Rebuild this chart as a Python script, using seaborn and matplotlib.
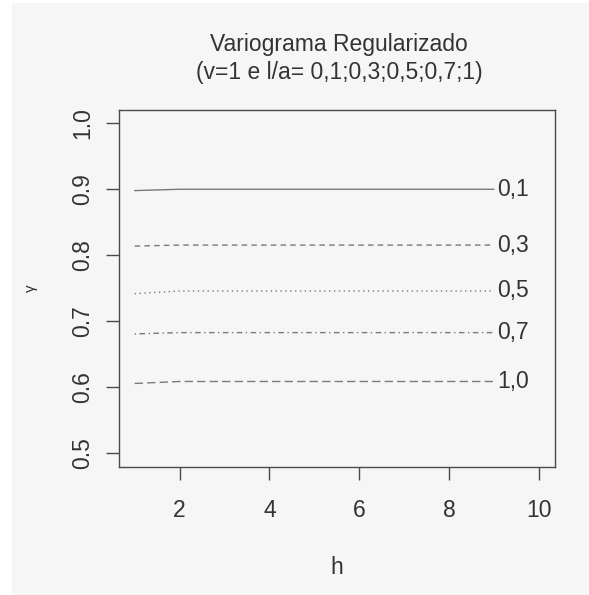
import matplotlib
matplotlib.use("Agg")
import matplotlib.pyplot as plt
import seaborn as sns
import numpy as np
import pandas as pd
from matplotlib.patches import Rectangle

sns.set_theme(style="white")
plt.rcParams['font.family'] = ['Liberation Sans', 'DejaVu Sans']

# data
h = [1, 2, 3, 4, 5, 6, 7, 8, 9]
ratios = ["0,1", "0,3", "0,5", "0,7", "1,0"]
g01 = [0.898, 0.900, 0.900, 0.900, 0.900, 0.900, 0.900, 0.900, 0.900]
g03 = [0.814, 0.8155, 0.8155, 0.8155, 0.8155, 0.8155, 0.8155, 0.8155, 0.8155]
g05 = [0.742, 0.746, 0.746, 0.746, 0.746, 0.746, 0.746, 0.746, 0.746]
g07 = [0.681, 0.683, 0.683, 0.683, 0.683, 0.683, 0.683, 0.683, 0.683]
g10 = [0.606, 0.609, 0.609, 0.609, 0.609, 0.609, 0.609, 0.609, 0.609]
series = [g01, g03, g05, g07, g10]
xticks = [2, 4, 6, 8, 10]
yticks = [0.5, 0.6, 0.7, 0.8, 0.9, 1.0]

styles = ['-', (0, (4, 3)), (0, (1, 2.5)), (0, (1, 2.5, 4, 2.5)), (0, (6, 3))]

bg = '#f6f6f6'
line_c = '#7a7a7a'
frame_c = '#4a4a4a'
text_c = '#333333'
fs = 16.5

fig = plt.figure(figsize=(5.89, 5.95), dpi=100, facecolor=bg)
# white borders (left and top)
fig.patches.append(Rectangle((0, 0), 12/589, 1, transform=fig.transFigure, facecolor='white', edgecolor='none', zorder=-10))
fig.patches.append(Rectangle((0, 1-3/595), 1, 3/595, transform=fig.transFigure, facecolor='white', edgecolor='none', zorder=-10))

ax = fig.add_axes([118.5/589, (595-466.7)/595, (555-118.5)/589, (466.7-110)/595])
ax.set_facecolor(bg)

for vals, ls, lab in zip(series, styles, ratios):
    df = pd.DataFrame({'h': h, 'g': vals})
    sns.lineplot(data=df, x='h', y='g', ax=ax, color=line_c, linewidth=1.0, linestyle=ls)
    ax.text(9.08, vals[-1], lab, ha='left', va='center', fontsize=fs, color=text_c)

ax.set_xlim(0.64, 10.36)
ax.set_ylim(0.48, 1.02)
ax.set_xticks(xticks)
ax.set_xticklabels([str(t) for t in xticks])
ax.set_yticks(yticks)
ax.set_yticklabels([f"{t:.1f}" for t in yticks], rotation=90, va='center')
for s in ax.spines.values():
    s.set_color(frame_c)
    s.set_linewidth(1.0)
ax.tick_params(axis='x', direction='out', length=9.4, width=1.0, color=frame_c,
               labelsize=fs, labelcolor=text_c, pad=14, bottom=True)
ax.tick_params(axis='y', direction='out', length=9.4, width=1.0, color=frame_c,
               labelsize=fs, labelcolor=text_c, pad=8, left=True)
ax.set_xlabel('h', fontsize=fs, color=text_c, labelpad=24)
ax.set_ylabel('γ', fontsize=11, color=text_c, labelpad=24)

fig.text(339/589, 1-45/595, 'Variograma Regularizado', ha='center', va='center', fontsize=fs, color=text_c)
fig.text(339/589, 1-73/595, '(v=1 e l/a= 0,1;0,3;0,5;0,7;1)', ha='center', va='center', fontsize=fs, color=text_c)

fig.savefig('out.png', dpi=100, facecolor=bg)
